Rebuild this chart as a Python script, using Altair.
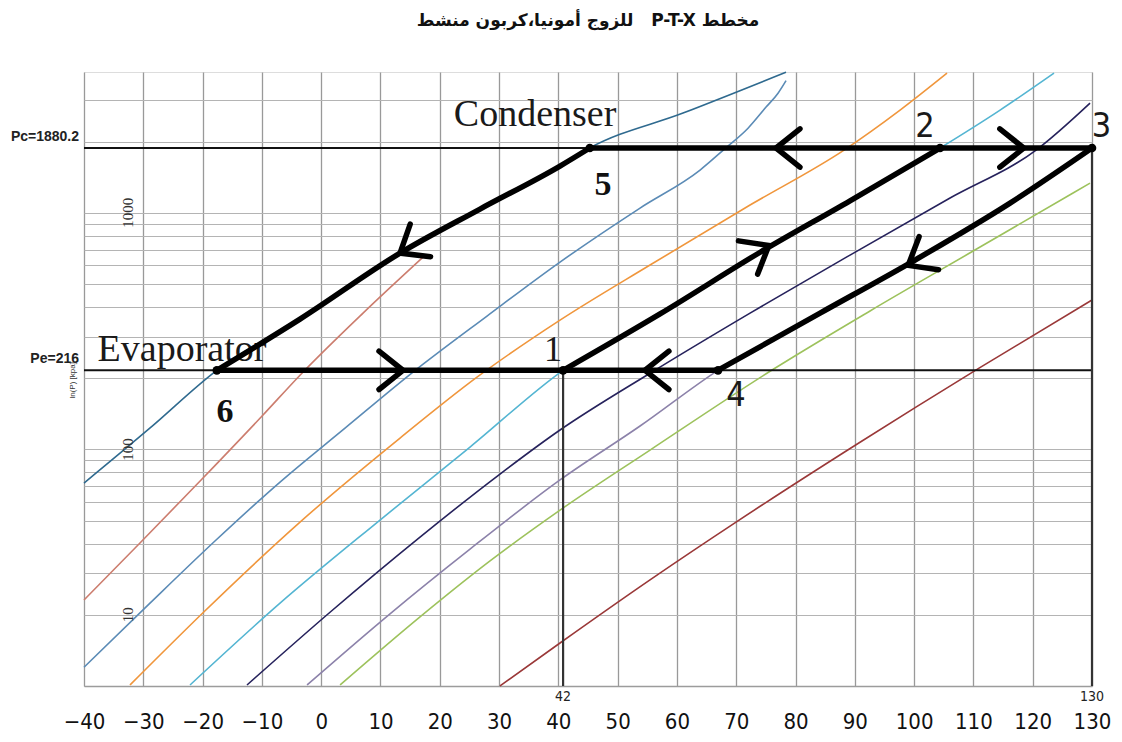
import altair as alt
import pandas as pd

# ---------------- data ----------------
T_TICKS = list(range(-40, 131, 10))
P_GRID = [10, 20, 30, 40, 50, 60, 70, 80, 90,
          100, 200, 300, 400, 500, 600, 700, 800, 900,
          1000, 2000, 3000]

PC = 1880.2   # condenser pressure
PE = 216      # evaporator pressure

curve_names = ["c1", "c2", "c3", "c4", "c5", "c6", "c7", "c8", "c9"]
curve_colors = ["#2f6a8f", "#cc7d6e", "#5b8bb6", "#f0963c", "#54b5d2",
                "#26225c", "#8c82aa", "#9dc25c", "#9a3838"]

c1_T = [-40, -28.9, -17.6, -3.57, 13.3, 26.79, 40.28, 45.3, 61.03, 78.4]
c1_P = [72.1, 123, 216, 355.6, 676, 1038, 1577, 1880.2, 2641, 3930]

c2_T = [-40, -30.56, -19.93, -9.81, -3.57, 7.06, 17.18]
c2_P = [23.1, 40.2, 75.7, 139.8, 206, 377, 650]

c3_T = [-40, -28.87, -17.91, -6.94, 4.02, 15.49, 27.97, 40.28, 53.78, 63.9, 68.11, 71.99, 75.03, 77.05, 78.4]
c3_P = [12.0, 22.4, 41.0, 72.8, 123.1, 212.4, 366.3, 619.4, 1048, 1517, 1870, 2280, 2800, 3206, 3622]

c4_T = [-32.24, -19.93, -3.57, 13.3, 26.28, 40.28, 55.46, 72.33, 88.18, 97.63, 105.55]
c4_P = [10.1, 20.4, 49.3, 111.7, 202, 352, 602, 1079, 1843, 2720, 3899]

c5_T = [-22.12, -6.94, 9.92, 25.1, 40.8, 57.15, 74.18, 89.19, 104.37, 114.5, 123.6]
c5_P = [10.1, 22.4, 50.3, 102.3, 216, 374, 685, 1125, 1880.2, 2720, 3899]

c6_T = [-12.51, 1.49, 16.67, 30.16, 40.28, 55.46, 72.33, 89.19, 106.06, 120.57, 129.67]
c6_P = [10.1, 20.5, 42.6, 78.7, 120.8, 210, 377, 663, 1155, 1843, 2912]

c7_T = [-2.39, 11.61, 25.10, 40.28, 53.78, 66.93, 84.14, 100.16, 116.18, 130]
c7_P = [10.1, 20.2, 37.9, 74.3, 125.6, 216, 377, 632, 1100, 1880.2]

c8_T = [3.18, 16.67, 28.48, 40.28, 55.46, 76.04, 92.57, 111.12, 129.67]
c8_P = [10.1, 19.6, 33.8, 55.4, 99.4, 216.6, 385, 717, 1336]

c9_T = [30.16, 40.28, 55.46, 69.97, 89.87, 110.95, 130]
c9_P = [10.0, 15.2, 28.1, 49.3, 103.4, 220.8, 428]

curves_T = [c1_T, c2_T, c3_T, c4_T, c5_T, c6_T, c7_T, c8_T, c9_T]
curves_P = [c1_P, c2_P, c3_P, c4_P, c5_P, c6_P, c7_P, c8_P, c9_P]

# cycle path (thick black)
segA_T = [-17.6, -3.57, 13.3, 26.79, 40.28, 45.3]        # 6 -> 5
segA_P = [216, 355.6, 676, 1038, 1577, PC]
segB_T = [45.3, 130]                                     # 5 .. 3 at Pc
segB_P = [PC, PC]
segC_T = [40.8, 57.15, 74.18, 89.19, 104.37]             # 1 -> 2
segC_P = [216, 374, 685, 1125, PC]
segD_T = [66.93, 84.14, 100.16, 116.18, 130]             # 4 .. 3
segD_P = [216, 377, 632, 1100, PC]
segE_T = [-17.6, 66.93]                                  # 6 .. 4 at Pe
segE_P = [PE, PE]
segs_T = [segA_T, segB_T, segC_T, segD_T, segE_T]
segs_P = [segA_P, segB_P, segC_P, segD_P, segE_P]

# state points
pt_names = ["1", "2", "3", "4", "5", "6"]
pt_T = [40.8, 104.37, 130, 66.93, 45.3, -17.6]
pt_P = [PE, PC, PC, PE, PC, PE]

# arrow heads (tip position and direction in degrees)
arr_T = [76.7, 118.5, 75.5, 99.0, 54.6, 13.8, 13.3]
arr_P = [PC, PC, 728, 600, PE, PE, 676]
arr_ang = [180, 0, 330, 149.5, 180, 0, 148]

# labels
lab_serif = ["1"]
lab_serif_T = [39.1]
lab_serif_P = [263]
lab_sans = ["2", "3", "4"]
lab_sans_T = [101.85, 131.6, 69.97]
lab_sans_P = [2305, 2305, 168]
lab_bold = ["5", "6"]
lab_bold_T = [47.54, -16.22]
lab_bold_P = [1311, 144]
big_text = ["Condenser", "Evaporator"]
big_T = [36.07, -23.47]
big_P = [2590, 263]
ylab_text = ["1000", "100", "10"]
ylab_T = [-32.6, -32.6, -32.6]
ylab_P = [1000, 100, 20]
left_text = ["Pc=1880.2", "Pe=216"]
left_P = [PC, PE]
mark_text = ["42", "130"]
mark_T = [40.8, 130]

TITLE = "للزوج أمونيا،كربون منشط\u00a0\u00a0\u00a0P-T-X مخطط"

SANS = "'DejaVu Sans Condensed', 'Liberation Sans', sans-serif"
SANS2 = "'Liberation Sans', Arial, sans-serif"

# ---------------- tables ----------------
rows = []
for name, Ts, Ps in zip(curve_names, curves_T, curves_P):
    for i, (t, p) in enumerate(zip(Ts, Ps)):
        rows.append({"curve": name, "T": t, "P": p, "i": i})
df_curves = pd.DataFrame(rows)

rows = []
for k, (Ts, Ps) in enumerate(zip(segs_T, segs_P)):
    for i, (t, p) in enumerate(zip(Ts, Ps)):
        rows.append({"seg": k, "T": t, "P": p, "i": i})
df_segs = pd.DataFrame(rows)

df_pts = pd.DataFrame({"name": pt_names, "T": pt_T, "P": pt_P})
df_arr = pd.DataFrame({"T": arr_T, "P": arr_P, "ang": arr_ang})
df_hl = pd.DataFrame({"T": [-40, -40], "T2": [130, 130], "P": [PC, PE]})
df_vl = pd.DataFrame({"T": [40.8, 130], "P": [10, 10], "P2": [PE, PC]})

x_enc = alt.X("T:Q",
              scale=alt.Scale(domain=[-40, 130], nice=False, zero=False),
              axis=alt.Axis(values=T_TICKS, grid=True, gridColor="#999999", gridWidth=1.3,
                            ticks=False, labelPadding=25, labelFont=SANS,
                            labelFontSize=22, labelColor="#111111", labelFlush=False,
                            labelOverlap=False, domainColor="#9c9c9c", domainWidth=1.5,
                            title=None))
y_enc = alt.Y("P:Q",
              scale=alt.Scale(type="log", domain=[10, 3940], nice=False),
              axis=alt.Axis(values=P_GRID, grid=True, gridColor="#b4b4b4", gridWidth=1.2,
                            labels=False, ticks=False, domain=False, title=None))

curves = alt.Chart(df_curves).mark_line(strokeWidth=1.6, interpolate="monotone").encode(
    x=x_enc, y=y_enc,
    color=alt.Color("curve:N", scale=alt.Scale(domain=curve_names, range=curve_colors), legend=None),
    order="i:Q",
)

hlines = alt.Chart(df_hl).mark_rule(color="#111111", strokeWidth=2).encode(
    x=x_enc, x2="T2:Q", y=y_enc)
vlines = alt.Chart(df_vl).mark_rule(color="#333333", strokeWidth=2.2).encode(
    x=x_enc, y=y_enc, y2="P2:Q")

big = alt.Chart(pd.DataFrame({"t": big_text, "T": big_T, "P": big_P})).mark_text(
    font="Liberation Serif", fontSize=38, color="#1a1a1a", baseline="middle").encode(
    x=x_enc, y=y_enc, text="t:N")

path = alt.Chart(df_segs).mark_line(color="black", strokeWidth=5.5, strokeCap="round",
                                     strokeJoin="round", interpolate="monotone").encode(
    x=x_enc, y=y_enc, detail="seg:N", order="i:Q")

arrows = alt.Chart(df_arr).mark_point(
    shape="M-1,-0.8L0,0L-1,0.8", filled=False, color="black", strokeWidth=5.5,
    strokeCap="round", strokeJoin="miter", size=2300, opacity=1).encode(
    x=x_enc, y=y_enc, angle=alt.Angle("ang:Q", scale=None))

dots = alt.Chart(df_pts).mark_circle(size=75, color="black", opacity=1).encode(x=x_enc, y=y_enc)

t_serif = alt.Chart(pd.DataFrame({"t": lab_serif, "T": lab_serif_T, "P": lab_serif_P})).mark_text(
    font="Liberation Serif", fontSize=36, color="#1a1a1a", baseline="middle").encode(
    x=x_enc, y=y_enc, text="t:N")
t_sans = alt.Chart(pd.DataFrame({"t": lab_sans, "T": lab_sans_T, "P": lab_sans_P})).mark_text(
    font=SANS, fontSize=34, color="#1a1a1a", baseline="middle").encode(
    x=x_enc, y=y_enc, text="t:N")
t_bold = alt.Chart(pd.DataFrame({"t": lab_bold, "T": lab_bold_T, "P": lab_bold_P})).mark_text(
    font="Liberation Serif", fontSize=34, fontWeight="bold", color="#111111", baseline="middle").encode(
    x=x_enc, y=y_enc, text="t:N")
t_ylab = alt.Chart(pd.DataFrame({"t": ylab_text, "T": ylab_T, "P": ylab_P})).mark_text(
    font="Liberation Serif", fontSize=15, color="#333333", angle=270, baseline="middle").encode(
    x=x_enc, y=y_enc, text="t:N")
t_left = alt.Chart(pd.DataFrame({"t": left_text, "T": [-40, -40], "P": left_P})).mark_text(
    font=SANS2, fontSize=14, fontWeight="bold", color="#222222",
    align="right", baseline="middle", dx=-5, dy=-11).encode(
    x=x_enc, y=y_enc, text="t:N")
t_unit = alt.Chart(pd.DataFrame({"t": ["ln(P) [kpa]"], "T": [-41.9], "P": [196]})).mark_text(
    font=SANS2, fontSize=8, color="#333333", angle=270, baseline="middle").encode(
    x=x_enc, y=y_enc, text="t:N")
t_mark = alt.Chart(pd.DataFrame({"t": mark_text, "T": mark_T, "P": [10, 10]})).mark_text(
    font=SANS, fontSize=14, color="#222222", baseline="top", dy=4).encode(
    x=x_enc, y=y_enc, text="t:N")

chart = alt.layer(
    curves, hlines, vlines, big, path, arrows, dots,
    t_serif, t_sans, t_bold, t_ylab, t_left, t_unit, t_mark
).properties(
    width=1008, height=614,
    title=alt.Title(TITLE, font="DejaVu Sans", fontSize=17, fontWeight="bold",
                    color="#111111", anchor="middle", offset=39),
    autosize=alt.AutoSizeParams(type="none"),
    padding={"left": 76, "top": 64, "right": 22, "bottom": 50},
).configure_view(stroke="#a0a0a0", strokeWidth=1.2).configure(background="white")

chart.save("out.html", embed_options={"renderer": "svg", "actions": False})
